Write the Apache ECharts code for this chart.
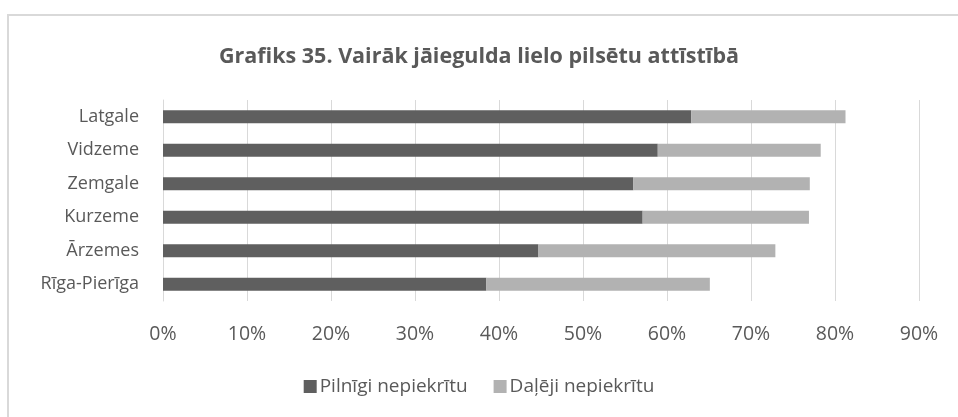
<!DOCTYPE html>
<html>
<head>
<meta charset="utf-8">
<script src="https://cdn.jsdelivr.net/npm/echarts@6/dist/echarts.min.js"></script>
<style>
  html, body { margin: 0; padding: 0; background: #fff; }
  #chart { width: 958px; height: 417px; }
</style>
</head>
<body>
<div id="chart"></div>
<script>
// Regions, top to bottom (the category axis is inverted)
const regions = ['Latgale', 'Vidzeme', 'Zemgale', 'Kurzeme', 'Ārzemes', 'Rīga-Pierīga'];
const fullyDisagree = [62.9, 58.9, 56.0, 57.1, 44.7, 38.5];
const partlyDisagree = [18.35, 19.4, 21.0, 19.8, 28.2, 26.6];
const seriesNames = ['Pilnīgi nepiekrītu', 'Daļēji nepiekrītu'];
const titleText = 'Grafiks 35. Vairāk jāiegulda lielo pilsētu attīstībā';

const font = '"Open Sans", "Liberation Sans", sans-serif';
const textColor = '#595959';

const chart = echarts.init(document.getElementById('chart'), null, { renderer: 'canvas' });
chart.setOption({
  animation: false,
  backgroundColor: '#fff',
  graphic: [{
    type: 'rect',
    shape: { x: 8, y: 15, width: 1000, height: 500 },
    style: { fill: 'none', stroke: '#d9d9d9', lineWidth: 2 },
    silent: true
  }],
  title: {
    text: titleText,
    left: 'center',
    top: 41,
    textStyle: { fontFamily: font, fontSize: 21.5, fontWeight: 'bold', color: textColor }
  },
  legend: {
    top: 372,
    left: 'center',
    itemWidth: 13,
    itemHeight: 13,
    itemGap: 26,
    icon: 'rect',
    textStyle: { fontFamily: font, fontSize: 19, color: textColor, padding: [0, 0, 0, -2] },
    data: seriesNames
  },
  grid: { left: 163, right: 39, top: 100, height: 201, containLabel: false },
  xAxis: {
    type: 'value',
    min: 0,
    max: 90,
    interval: 10,
    axisLine: { show: false },
    axisTick: { show: false },
    splitLine: { lineStyle: { color: '#d9d9d9', width: 1 } },
    axisLabel: {
      formatter: '{value}%',
      margin: 23,
      fontFamily: font, fontSize: 19.5, color: textColor
    }
  },
  yAxis: {
    type: 'category',
    inverse: true,
    data: regions,
    axisLine: { show: true, lineStyle: { color: '#d9d9d9', width: 1 } },
    axisTick: { show: false },
    axisLabel: { margin: 24, fontFamily: font, fontSize: 18, color: textColor }
  },
  series: [
    {
      name: seriesNames[0],
      type: 'bar',
      stack: 'total',
      barWidth: '39%',
      itemStyle: { color: '#5f5f5f' },
      data: fullyDisagree
    },
    {
      name: seriesNames[1],
      type: 'bar',
      stack: 'total',
      barWidth: '39%',
      itemStyle: { color: '#b2b2b2' },
      data: partlyDisagree
    }
  ]
});
</script>
</body>
</html>
